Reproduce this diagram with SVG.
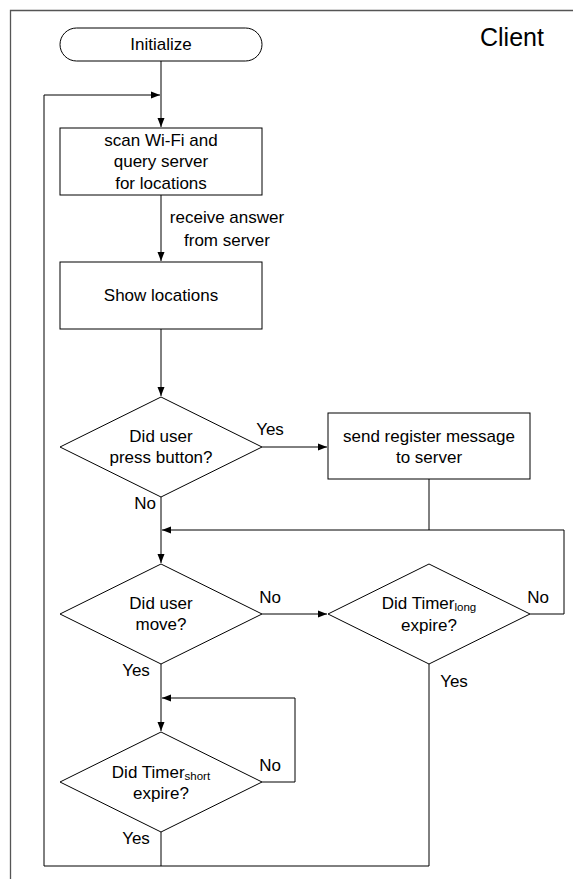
<svg xmlns="http://www.w3.org/2000/svg" width="573" height="879" viewBox="0 0 573 879">
<style>
text{font-family:"Liberation Sans",Arial,sans-serif;font-size:17px;fill:#000;text-anchor:middle}
.shape{fill:#fff;stroke:#000;stroke-width:1}
.conn{fill:none;stroke:#000;stroke-width:1}
.sub{font-size:11.5px}
.title{font-size:25px;text-anchor:start}
</style>
<defs>
<marker id="arr" markerWidth="10" markerHeight="8" refX="9" refY="4" orient="auto" markerUnits="userSpaceOnUse">
<path d="M0,0.5 L9,4 L0,7.5 Z" fill="#000"/>
</marker>
</defs>
<rect width="573" height="879" fill="#fff"/>
<path d="M10.5,879 V10.5 H573" fill="none" stroke="#555" stroke-width="1.3"/>
<text class="title" x="480" y="46">Client</text>

<g id="connectors">
<path class="conn" d="M161,61 V127" marker-end="url(#arr)"/>
<path class="conn" d="M429,664 V866 H44 V95 H160" marker-end="url(#arr)"/>
<path class="conn" d="M161,832 V866"/>
<path class="conn" d="M161,195 V261" marker-end="url(#arr)"/>
<path class="conn" d="M161,329 V396" marker-end="url(#arr)"/>
<path class="conn" d="M262,447 H327" marker-end="url(#arr)"/>
<path class="conn" d="M429,479 V530"/>
<path class="conn" d="M530,614 H564 V530 H162" marker-end="url(#arr)"/>
<path class="conn" d="M161,497 V563" marker-end="url(#arr)"/>
<path class="conn" d="M262,614 H327" marker-end="url(#arr)"/>
<path class="conn" d="M161,664 V731" marker-end="url(#arr)"/>
<path class="conn" d="M262,782 H295 V698 H162" marker-end="url(#arr)"/>
<text x="227" y="223">receive answer</text>
<text x="227" y="246">from server</text>
<text x="270" y="435">Yes</text>
<text x="145" y="509">No</text>
<text x="270" y="603">No</text>
<text x="538" y="603">No</text>
<text x="136" y="676">Yes</text>
<text x="454" y="687">Yes</text>
<text x="270" y="771">No</text>
<text x="136" y="844">Yes</text>
</g>

<g id="initialize">
<rect class="shape" x="60" y="28" width="202" height="33" rx="16.5"/>
<text x="161" y="50">Initialize</text>
</g>

<g id="scan">
<rect class="shape" x="60" y="128" width="202" height="67"/>
<text x="161" y="146">scan Wi-Fi and</text>
<text x="161" y="167">query server</text>
<text x="161" y="189">for locations</text>
</g>

<g id="show">
<rect class="shape" x="60" y="262" width="202" height="67"/>
<text x="161" y="301">Show locations</text>
</g>

<g id="press">
<polygon class="shape" points="161,397 262,447 161,497 60,447"/>
<text x="161" y="442">Did user</text>
<text x="161" y="463">press button?</text>
</g>

<g id="register">
<rect class="shape" x="328" y="413" width="202" height="66"/>
<text x="429" y="442">send register message</text>
<text x="429" y="463">to server</text>
</g>

<g id="move">
<polygon class="shape" points="161,564 262,614 161,664 60,614"/>
<text x="161" y="609">Did user</text>
<text x="161" y="630">move?</text>
</g>

<g id="timerlong">
<polygon class="shape" points="429,564 530,614 429,664 328,614"/>
<text x="429" y="609">Did Timer<tspan class="sub" dy="2">long</tspan></text>
<text x="429" y="631">expire?</text>
</g>

<g id="timershort">
<polygon class="shape" points="161,732 262,782 161,832 60,782"/>
<text x="161" y="778">Did Timer<tspan class="sub" dy="2">short</tspan></text>
<text x="161" y="799">expire?</text>
</g>
</svg>
